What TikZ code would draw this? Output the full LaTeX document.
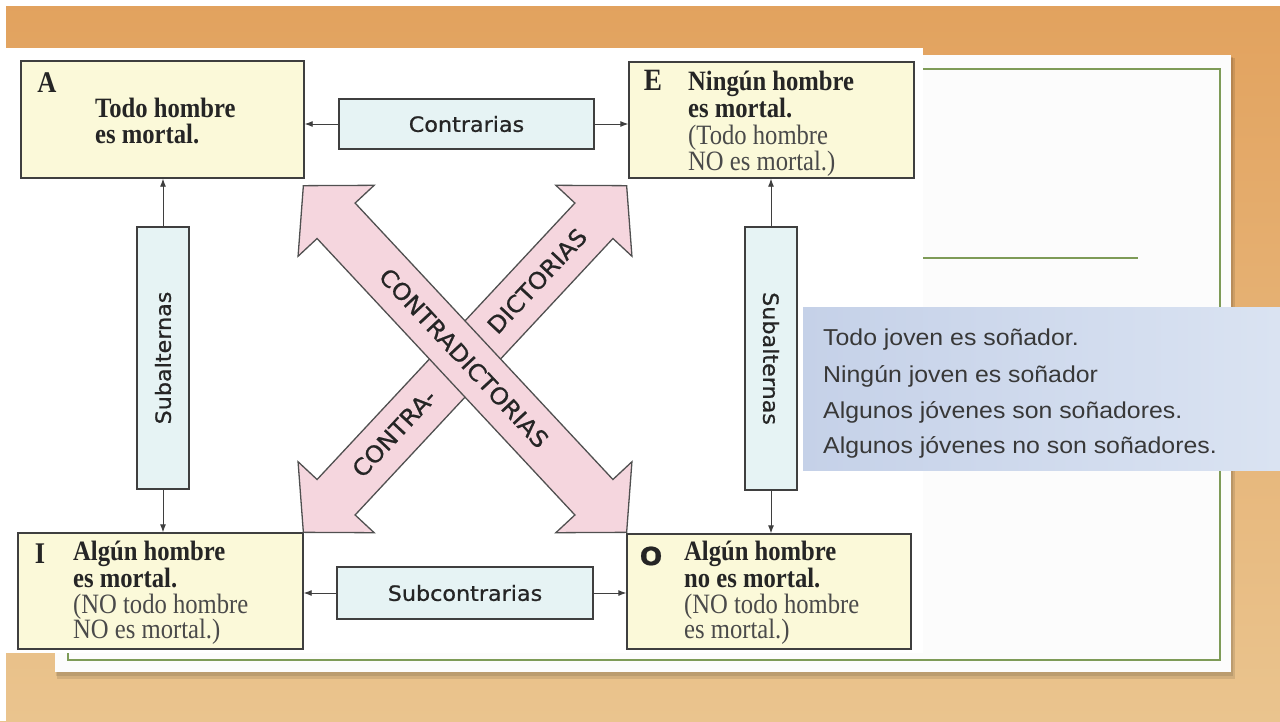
\documentclass[tikz,border=0pt]{standalone}
\usepackage{fontspec}
\setmainfont{Liberation Serif}
\newfontfamily\bookserif[FakeStretch=0.88]{Liberation Serif}
\newfontfamily\labelsans[FakeStretch=1.06, FakeBold=0.8]{DejaVu Sans}
\newfontfamily\slidesans[FakeStretch=1.08]{Liberation Sans}
\usetikzlibrary{arrows.meta}
\definecolor{boxyellow}{HTML}{FBF9D9}
\definecolor{labelcyan}{HTML}{E6F3F4}
\definecolor{pinkfill}{HTML}{F5D6DE}
\definecolor{edge}{HTML}{3F3F3F}
\definecolor{arrowedge}{HTML}{505050}
\definecolor{inkdark}{HTML}{252525}
\definecolor{inkgray}{HTML}{4A4A4A}
\definecolor{slideink}{HTML}{383838}
\definecolor{frameGreen}{HTML}{7E9B57}
\definecolor{woodTop}{HTML}{E2A25E}
\definecolor{woodBottom}{HTML}{EAC48E}
\definecolor{blueL}{HTML}{C5D1E8}
\definecolor{blueR}{HTML}{DAE3F2}
\begin{document}
\begin{tikzpicture}[x=1pt,y=-1pt,
  mainbox/.style={draw=edge, fill=boxyellow, line width=1.4pt, inner sep=0pt},
  tagbox/.style={draw=edge, fill=labelcyan, line width=1.3pt, inner sep=0pt,
    font=\labelsans\fontsize{21}{24}\selectfont, text=inkdark},
  conn/.style={draw=edge, line width=0.9pt, -{Latex[length=8pt,width=6pt]}},
  bigarrow/.style={draw=arrowedge, fill=pinkfill, line width=1.3pt, line join=miter},
  boldline/.style={anchor=base west, inner sep=0pt, text=inkdark,
    font=\bookserif\bfseries\fontsize{28}{30}\selectfont},
  plainline/.style={anchor=base west, inner sep=0pt, text=inkgray,
    font=\bookserif\fontsize{28}{30}\selectfont},
  letter/.style={inner sep=0pt, text=inkdark, font=\bookserif\bfseries\fontsize{30}{32}\selectfont},
  xtext/.style={inner sep=0pt, text=inkdark, font=\labelsans\fontsize{23}{25}\selectfont},
  slideline/.style={anchor=base west, inner sep=0pt, text=slideink,
    font=\slidesans\fontsize{23}{26}\selectfont},
  greenline/.style={draw=frameGreen, line width=1.6pt}
]
% background
\useasboundingbox (0,0) rectangle (1280,721);
\shade[top color=woodTop, bottom color=woodBottom] (0,0) rectangle (1280,721);
\fill[white] (0,0) rectangle (1280,6);
\fill[white] (0,0) rectangle (6,721);
% card with shadow
\fill[black, opacity=0.10] (57,58) rectangle (1235,679);
\fill[black, opacity=0.10] (56,57) rectangle (1233,676);
\fill[white!98!gray] (55,55) rectangle (1231,672);
\draw[greenline] (68,69) rectangle (1220,660);
% scanned diagram area
\fill[white] (6,48) rectangle (923,653);
\draw[greenline] (923,258) -- (1138,258);

% main boxes
\node[mainbox, minimum width=283pt, minimum height=117pt] (A) at (162.5,119.5) {};
\node[mainbox, minimum width=285pt, minimum height=116pt] (E) at (771.5,120) {};
\node[mainbox, minimum width=285pt, minimum height=116pt] (I) at (160.5,591) {};
\node[mainbox, minimum width=284pt, minimum height=115pt] (O) at (769,591.5) {};

% box texts
\node[letter] (Aletter) at (47,83) {A};
\node[boldline] (A1) at (95,117) {Todo hombre};
\node[boldline] (A2) at (95,143) {es mortal.};

\node[letter, font=\bookserif\bfseries\fontsize{31}{32}\selectfont] (Eletter) at (653,80) {E};
\node[boldline] (E1) at (688,90) {Ningún hombre};
\node[boldline] (E2) at (688,117) {es mortal.};
\node[plainline] (E3) at (688,144) {(Todo hombre};
\node[plainline] (E4) at (688,170) {NO es mortal.)};

\node[letter] (Iletter) at (40,554) {I};
\node[boldline] (I1) at (73,560) {Algún hombre};
\node[boldline] (I2) at (73,587) {es mortal.};
\node[plainline] (I3) at (73,613) {(NO todo hombre};
\node[plainline] (I4) at (73,638) {NO es mortal.)};

\node[letter, font=\labelsans\bfseries\fontsize{25}{28}\selectfont] (Oletter) at (651,556) {O};
\node[boldline] (O1) at (684,560) {Algún hombre};
\node[boldline] (O2) at (684,587) {no es mortal.};
\node[plainline] (O3) at (684,613) {(NO todo hombre};
\node[plainline] (O4) at (684,638) {es mortal.)};

% relation label boxes
\node[tagbox, minimum width=255pt, minimum height=50pt] (contr) at (466.5,124) {Contrarias};
\node[tagbox, minimum width=256pt, minimum height=52pt] (subc) at (465,593) {Subcontrarias};
\node[tagbox, minimum width=52pt, minimum height=262pt] (subL) at (163,358) {\rotatebox{90}{Subalternas}};
\node[tagbox, minimum width=52pt, minimum height=263pt] (subR) at (771,358.5) {\rotatebox{-90}{Subalternas}};

% connectors
\draw[conn] (contr.west) -- (contr.west -| A.east);
\draw[conn] (contr.east) -- (contr.east -| E.west);
\draw[conn] (subc.west) -- (subc.west -| I.east);
\draw[conn] (subc.east) -- (subc.east -| O.west);
\draw[conn] (subL.north) -- (subL.north |- A.south);
\draw[conn] (subL.south) -- (subL.south |- I.north);
\draw[conn] (subR.north) -- (subR.north |- E.south);
\draw[conn] (subR.south) -- (subR.south |- O.north);

% big crossing arrows
\begin{scope}[shift={(465,359)}, rotate=47]
  \draw[bigarrow] (237,0) -- (189,52) -- (189,26) -- (-189,26) -- (-189,52) -- (-237,0)
    -- (-189,-52) -- (-189,-26) -- (189,-26) -- (189,-52) -- cycle;
\end{scope}
\node[xtext, rotate=47] (dict) at (537,281) {DICTORIAS};
\node[xtext, rotate=47] (contra) at (394,433) {CONTRA-};
\begin{scope}[shift={(465,359)}, rotate=-47]
  \draw[bigarrow] (237,0) -- (189,52) -- (189,26) -- (-189,26) -- (-189,52) -- (-237,0)
    -- (-189,-52) -- (-189,-26) -- (189,-26) -- (189,-52) -- cycle;
\end{scope}
\node[xtext, rotate=-47] (contradict) at (464,358) {CONTRADICTORIAS};

% examples box
\shade[left color=blueL, right color=blueR] (803,307) rectangle (1280,470);
\node[slideline] (ex1) at (823,345) {Todo joven es soñador.};
\node[slideline] (ex2) at (823,382) {Ningún joven es soñador};
\node[slideline] (ex3) at (823,418) {Algunos jóvenes son soñadores.};
\node[slideline] (ex4) at (823,453) {Algunos jóvenes no son soñadores.};
\end{tikzpicture}
\end{document}
